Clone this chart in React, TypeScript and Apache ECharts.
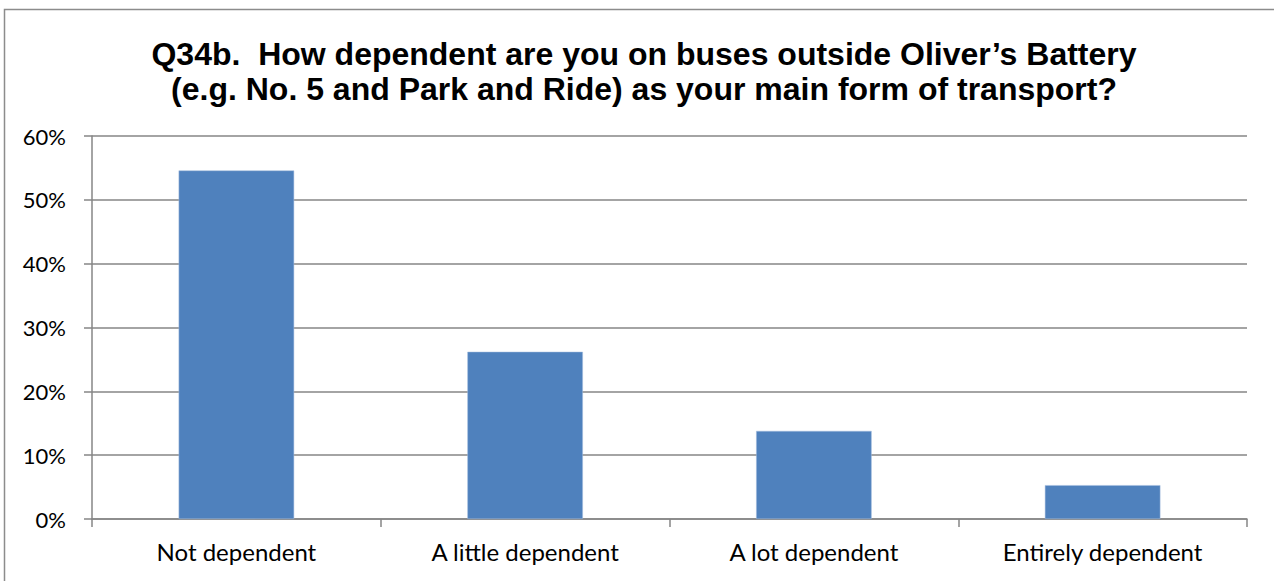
import React, { useEffect, useRef } from "react";
import * as echarts from "echarts";

const categories = ["Not dependent", "A little dependent", "A lot dependent", "Entirely dependent"];
const values = [54.6, 26.2, 13.8, 5.3];
const titleLines = [
  "Q34b.  How dependent are you on buses outside Oliver\u2019s Battery",
  "(e.g. No. 5 and Park and Ride) as your main form of transport?",
];

export default function App() {
  const ref = useRef<HTMLDivElement>(null);
  useEffect(() => {
    const chart = echarts.init(ref.current!, null, { renderer: "svg" });
    chart.setOption({
      animation: false,
      backgroundColor: "#ffffff",
      title: {
        text: titleLines.join("\n"),
        left: 639,
        textAlign: "center",
        top: 31,
        textStyle: {
          fontFamily: "Liberation Sans, Arial, sans-serif",
          fontWeight: "bold",
          fontSize: 32,
          lineHeight: 35,
          color: "#000000",
        },
      },
      graphic: [
        {
          type: "rect",
          shape: { x: 4.5, y: 9.5, width: 1320, height: 620 },
          style: { fill: "none", stroke: "#8c8c8c", lineWidth: 1.5 },
          silent: true,
        },
      ],
      grid: { left: 92, right: 27, top: 136, bottom: 62, containLabel: false },
      xAxis: {
        type: "category",
        data: categories,
        axisLine: { show: true, lineStyle: { color: "#868686", width: 1.5 } },
        axisTick: { show: true, alignWithLabel: false, length: 8, lineStyle: { color: "#868686", width: 1.5 } },
        axisLabel: {
          fontFamily: "Lato, Carlito, sans-serif",
          fontSize: 24,
          color: "#000000",
          margin: 20,
          interval: 0,
        },
      },
      yAxis: {
        type: "value",
        min: 0,
        max: 60,
        interval: 10,
        axisLine: { show: true, lineStyle: { color: "#868686", width: 1.5 } },
        axisTick: { show: true, length: 8, lineStyle: { color: "#868686", width: 1.5 } },
        splitLine: { show: true, lineStyle: { color: "#868686", width: 1.5 } },
        axisLabel: {
          formatter: "{value}%",
          fontFamily: "Lato, Carlito, sans-serif",
          fontSize: 22,
          color: "#000000",
          margin: 26,
        },
      },
      series: [
        {
          type: "bar",
          data: values,
          barWidth: "40%",
          itemStyle: { color: "#4f81bd", borderColor: "#a7bfde", borderWidth: 0.5 },
        },
      ],
    });
    return () => chart.dispose();
  }, []);
  return (
    <div
      ref={ref}
      style={{ position: "fixed", left: 0, top: 0, width: 1274, height: 581 }}
    />
  );
}
